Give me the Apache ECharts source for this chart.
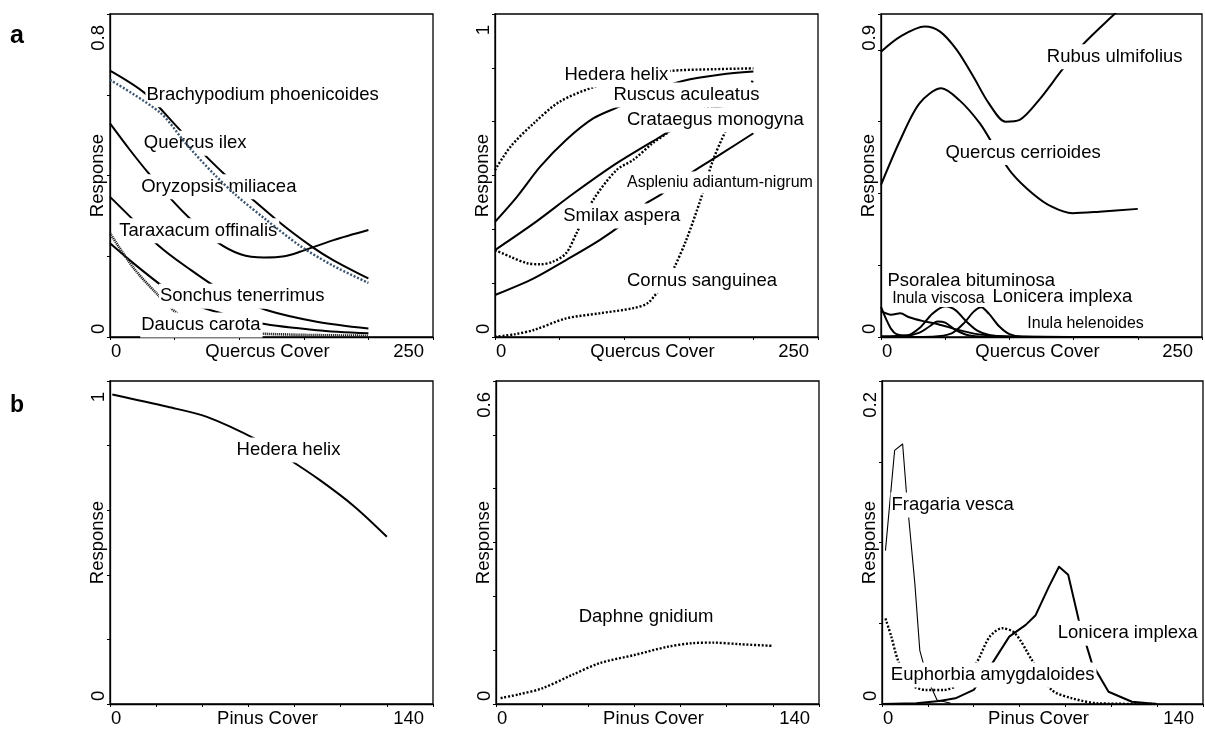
<!DOCTYPE html>
<html>
<head>
<meta charset="utf-8">
<script src="https://cdn.jsdelivr.net/npm/echarts@6/dist/echarts.min.js"></script>
<style>
  html, body { margin: 0; padding: 0; background: #fff; }
  #chart { width: 1205px; height: 731px; }
</style>
</head>
<body>
<div id="chart"></div>
<script>
// ---------- response curves along Quercus cover (row a) ----------
const brachypodium = [[0,0.66],[27,0.604],[55,0.51],[88,0.405],[129,0.29],[157,0.222],[173,0.19],[200,0.145]];
const quercusIlex = [[0,0.637],[39,0.555],[59,0.478],[80,0.405],[98,0.35],[121,0.29],[147,0.226],[173,0.176],[200,0.134]];
const oryzopsis = [[0,0.529],[15,0.465],[30,0.405],[48,0.339],[63,0.29],[83,0.235],[101,0.205],[119,0.197],[135,0.2],[147,0.211],[173,0.24],[200,0.265]];
const taraxacum = [[0,0.347],[18,0.29],[37,0.228],[59,0.174],[90,0.108],[121,0.067],[160,0.038],[200,0.021]];
const sonchus = [[0,0.232],[18,0.183],[41,0.125],[59,0.087],[86,0.059],[116,0.034],[160,0.017],[200,0.009]];
const daucus = [[0,0.257],[18,0.172],[36,0.108],[52,0.059],[70,0.03],[100,0.012],[140,0.006],[200,0.003]];

const hederaQ = [[0,0.62],[12,0.707],[30,0.794],[50,0.874],[76,0.928],[100,0.958],[135,0.988],[170,0.995],[200,0.998]];
const ruscus = [[0,0.428],[17,0.521],[35,0.633],[55,0.732],[76,0.812],[97,0.858],[120,0.91],[146,0.952],[175,0.975],[200,0.986]];
const crataegus = [[0,0.323],[30,0.422],[61,0.534],[94,0.645],[128,0.744],[148,0.8],[168,0.848],[185,0.865],[200,0.875]];
const smilax = [[0,0.323],[12,0.298],[25,0.274],[35,0.27],[45,0.28],[55,0.311],[63,0.385],[76,0.509],[94,0.62],[107,0.658],[122,0.72],[133,0.757],[153,0.83],[166,0.852],[185,0.866],[200,0.872]];
const asplenium = [[0,0.156],[30,0.218],[55,0.286],[81,0.36],[100,0.425],[117,0.497],[128,0.528],[153,0.614],[175,0.68],[200,0.757]];
const cornus = [[0,0],[15,0.01],[30,0.026],[55,0.069],[81,0.088],[107,0.107],[118,0.125],[125,0.162],[132,0.2],[139,0.261],[148,0.36],[159,0.509],[169,0.66],[179,0.769],[190,0.858],[200,0.958]];

const rubus = [[0,0.795],[15,0.837],[34,0.865],[46,0.851],[59,0.8],[72,0.725],[84,0.651],[97,0.6],[108,0.605],[123,0.66],[141,0.744],[157,0.814],[181,0.897],[200,0.96]];
const quercusCerrioides = [[0,0.424],[15,0.549],[30,0.651],[47,0.693],[61,0.66],[77,0.595],[90,0.52],[102,0.456],[118,0.4],[133,0.363],[149,0.345],[170,0.349],[200,0.357]];
const psoralea = [[0,0.002],[20,0.004],[30,0.025],[40,0.065],[50,0.086],[58,0.075],[66,0.045],[75,0.018],[85,0.005],[100,0.001],[200,0]];
const inulaViscosa = [[0,0.084],[4,0.05],[8,0.022],[12,0.008],[20,0.004],[30,0.012],[38,0.03],[44,0.043],[50,0.04],[58,0.02],[68,0.005],[80,0.001],[200,0]];
const loniceraQ = [[0,0],[40,0.001],[55,0.01],[65,0.04],[72,0.07],[78,0.083],[84,0.065],[92,0.03],[100,0.008],[110,0.001],[200,0]];
const inulaHelenoides = [[0,0.072],[8,0.062],[15,0.066],[22,0.055],[32,0.045],[45,0.035],[60,0.02],[75,0.008],[90,0.003],[110,0.0008],[130,0.0002],[200,0]];

// ---------- response curves along Pinus cover (row b) ----------
const hederaP = [[1,0.958],[25,0.92],[42,0.889],[64,0.817],[77,0.76],[91,0.693],[106,0.611],[120,0.518]];
const daphne = [[2,0.011],[10,0.018],[20,0.029],[33,0.054],[45,0.076],[60,0.091],[74,0.106],[85,0.113],[94,0.114],[106,0.111],[120,0.108]];
const fragaria = [[1.5,0.095],[5.5,0.157],[9,0.161],[10.7,0.13],[14.3,0.075],[16.5,0.033],[20,0.015],[24,0.0025],[30,0.0005]];
const euphorbia = [[1.5,0.053],[4,0.042],[7,0.027],[12,0.0128],[19,0.0087],[27,0.0087],[34,0.0128],[41,0.025],[47,0.0417],[52.5,0.0469],[58,0.0438],[65.5,0.027],[74,0.0087],[83,0.0035],[94.5,0.0004],[120,0]];
const loniceraP = [[0,0],[15,0.0005],[25,0.0019],[32,0.0035],[40,0.0087],[48,0.025],[55.5,0.0417],[62.7,0.049],[67,0.055],[72.8,0.0727],[77.2,0.085],[81.2,0.08],[85.8,0.052],[91.6,0.025],[98.8,0.0076],[109,0.0014],[120,0]];

// ---------- axes ----------
const xNames = ['Quercus Cover', 'Quercus Cover', 'Quercus Cover', 'Pinus Cover', 'Pinus Cover', 'Pinus Cover'];
const xMaxes = [250, 250, 250, 140, 140, 140];
const xSteps = [50, 50, 50, 20, 20, 20];
const xTickLabels = [['0','250'],['0','250'],['0','250'],['0','140'],['0','140'],['0','140']];
const yMaxes = [0.8, 1.2, 0.9, 1, 0.6, 0.2];
const ySteps = [0.2, 0.2, 0.2, 0.2, 0.1, 0.05];
const yTickLabels = [['0','0.8'],['0','1'],['0','0.9'],['0','1'],['0','0.6'],['0','0.2']];
const panelLetters = ['a', 'b'];

// ---------- which curve sits in which panel, and how it is stroked ----------
const curves = [
  { panel: 0, name: 'Brachypodium phoenicoides', data: brachypodium, stroke: 'solid' },
  { panel: 0, name: 'Quercus ilex', data: quercusIlex, stroke: 'slate' },
  { panel: 0, name: 'Oryzopsis miliacea', data: oryzopsis, stroke: 'solid' },
  { panel: 0, name: 'Taraxacum offinalis', data: taraxacum, stroke: 'solid' },
  { panel: 0, name: 'Sonchus tenerrimus', data: sonchus, stroke: 'solid' },
  { panel: 0, name: 'Daucus carota', data: daucus, stroke: 'hatched' },
  { panel: 1, name: 'Hedera helix', data: hederaQ, stroke: 'dotted' },
  { panel: 1, name: 'Ruscus aculeatus', data: ruscus, stroke: 'solid' },
  { panel: 1, name: 'Crataegus monogyna', data: crataegus, stroke: 'solid' },
  { panel: 1, name: 'Smilax aspera', data: smilax, stroke: 'dotted' },
  { panel: 1, name: 'Aspleniu adiantum-nigrum', data: asplenium, stroke: 'solid' },
  { panel: 1, name: 'Cornus sanguinea', data: cornus, stroke: 'dotted' },
  { panel: 2, name: 'Rubus ulmifolius', data: rubus, stroke: 'solid' },
  { panel: 2, name: 'Quercus cerrioides', data: quercusCerrioides, stroke: 'solid' },
  { panel: 2, name: 'Psoralea bituminosa', data: psoralea, stroke: 'solid' },
  { panel: 2, name: 'Inula viscosa', data: inulaViscosa, stroke: 'solid' },
  { panel: 2, name: 'Lonicera implexa', data: loniceraQ, stroke: 'solid' },
  { panel: 2, name: 'Inula helenoides', data: inulaHelenoides, stroke: 'solid' },
  { panel: 3, name: 'Hedera helix', data: hederaP, stroke: 'solid' },
  { panel: 4, name: 'Daphne gnidium', data: daphne, stroke: 'dotted' },
  { panel: 5, name: 'Fragaria vesca', data: fragaria, stroke: 'thin' },
  { panel: 5, name: 'Euphorbia amygdaloides', data: euphorbia, stroke: 'dotted' },
  { panel: 5, name: 'Lonicera implexa', data: loniceraP, stroke: 'polyline' }
];

// species names written inside the panels, anchored (left edge, middle) in axis units;
// "tight" tags sit close together and get no vertical padding
const nameTags = [
  { panel: 0, text: 'Brachypodium phoenicoides', at: [27, 0.6] },
  { panel: 0, text: 'Quercus ilex', at: [25, 0.48] },
  { panel: 0, text: 'Oryzopsis miliacea', at: [23, 0.372] },
  { panel: 0, text: 'Taraxacum offinalis', at: [6, 0.263] },
  { panel: 0, text: 'Sonchus tenerrimus', at: [37.5, 0.101] },
  { panel: 0, text: 'Daucus carota', at: [23, 0.03] },
  { panel: 1, text: 'Hedera helix', at: [52.6, 0.973] },
  { panel: 1, text: 'Ruscus aculeatus', at: [90.5, 0.899] },
  { panel: 1, text: 'Crataegus monogyna', at: [101, 0.806] },
  { panel: 1, text: 'Aspleniu adiantum-nigrum', at: [101, 0.574], small: true },
  { panel: 1, text: 'Smilax aspera', at: [51.6, 0.45] },
  { panel: 1, text: 'Cornus sanguinea', at: [101, 0.21] },
  { panel: 2, text: 'Rubus ulmifolius', at: [128, 0.781] },
  { panel: 2, text: 'Quercus cerrioides', at: [49, 0.514] },
  { panel: 2, text: 'Inula viscosa', at: [7.5, 0.106], small: true, tight: true },
  { panel: 2, text: 'Psoralea bituminosa', at: [3.9, 0.157], tight: true },
  { panel: 2, text: 'Lonicera implexa', at: [85.7, 0.1126], tight: true },
  { panel: 2, text: 'Inula helenoides', at: [112.8, 0.036], small: true },
  { panel: 3, text: 'Hedera helix', at: [54.2, 0.786] },
  { panel: 4, text: 'Daphne gnidium', at: [35.2, 0.162] },
  { panel: 5, text: 'Fragaria vesca', at: [3.5, 0.1232] },
  { panel: 5, text: 'Lonicera implexa', at: [76, 0.0438] },
  { panel: 5, text: 'Euphorbia amygdaloides', at: [3.2, 0.018] }
];

// ---------- layout and styling ----------
const FONT = "'Liberation Sans', Arial, Helvetica, sans-serif";
const INK = '#000';
const gridBoxes = [
  { left: 110, top: 14, width: 323 }, { left: 495, top: 14, width: 323 }, { left: 881, top: 14, width: 321 },
  { left: 110, top: 381, width: 323 }, { left: 496, top: 381, width: 323 }, { left: 882, top: 381, width: 321 }
];
const strokes = {
  solid:    { color: INK, width: 2, type: 'solid', smooth: 0.3 },
  polyline: { color: INK, width: 2, type: 'solid', smooth: false },
  thin:     { color: INK, width: 1.1, type: 'solid', smooth: false },
  dotted:   { color: INK, width: 2.4, type: [2, 1.8], smooth: 0.3 },
  slate:    { color: '#3a5570', width: 2.4, type: [2, 1.8], smooth: 0.3, z: 4 },
  hatched:  { color: '#222', width: 2.6, type: [1.2, 0.8], smooth: 0.3 }
};

const near = (a, b) => Math.abs(a - b) < 1e-9;

const grids = gridBoxes.map(g => ({
  left: g.left, top: g.top, width: g.width, height: 323,
  show: true, borderColor: INK, borderWidth: 1.3, backgroundColor: 'transparent',
  containLabel: false, outerBoundsMode: 'none'
}));

const xAxes = gridBoxes.map((g, i) => ({
  type: 'value', gridIndex: i, min: 0, max: xMaxes[i], interval: xSteps[i],
  name: xNames[i], nameLocation: 'middle', nameGap: 5, nameMoveOverlap: false,
  nameTextStyle: { fontSize: 18.5, color: INK, fontFamily: FONT, padding: [0, 8, 0, 0] },
  axisLine: { show: true, onZero: false, lineStyle: { color: INK, width: 1.3 } },
  axisTick: { show: true, inside: false, length: 3, lineStyle: { color: INK, width: 1 } },
  splitLine: { show: false },
  axisLabel: {
    show: true, margin: 5, fontSize: 18.5, color: INK, fontFamily: FONT,
    showMinLabel: true, showMaxLabel: true, hideOverlap: false,
    alignMinLabel: 'left', alignMaxLabel: 'right',
    formatter: v => near(v, 0) ? '{lo|' + xTickLabels[i][0] + '}'
                  : near(v, xMaxes[i]) ? '{hi|' + xTickLabels[i][1] + '}' : '',
    rich: {
      lo: { fontSize: 18.5, color: INK, fontFamily: FONT, padding: [0, 0, 0, 1] },
      hi: { fontSize: 18.5, color: INK, fontFamily: FONT, padding: [0, 9, 0, 0] }
    }
  }
}));

const yAxes = gridBoxes.map((g, i) => ({
  type: 'value', gridIndex: i, min: 0, max: yMaxes[i], interval: ySteps[i],
  name: 'Response', nameLocation: 'middle', nameGap: 3, nameRotate: 90, nameMoveOverlap: false,
  nameTextStyle: { fontSize: 18.5, color: INK, fontFamily: FONT },
  axisLine: { show: true, onZero: false, lineStyle: { color: INK, width: 1.3 } },
  axisTick: { show: true, inside: false, length: 3, lineStyle: { color: INK, width: 1 } },
  splitLine: { show: false },
  axisLabel: {
    show: true, rotate: 90, margin: 2, fontSize: 18.5, color: INK, fontFamily: FONT,
    showMinLabel: true, showMaxLabel: true, hideOverlap: false,
    alignMinLabel: 'left', alignMaxLabel: 'right',
    formatter: v => near(v, 0) ? '{lo|' + yTickLabels[i][0] + '}'
                  : near(v, yMaxes[i]) ? '{hi|' + yTickLabels[i][1] + '}' : '',
    rich: {
      lo: { fontSize: 18.5, color: INK, fontFamily: FONT, padding: [0, 0, 0, 3] },
      hi: { fontSize: 18.5, color: INK, fontFamily: FONT, padding: [0, 11, 0, 0] }
    }
  }
}));

const lineSeries = curves.map(c => {
  const s = strokes[c.stroke];
  return {
    type: 'line', name: c.name, xAxisIndex: c.panel, yAxisIndex: c.panel,
    data: c.data, showSymbol: false, symbol: 'none', clip: true,
    smooth: s.smooth, z: s.z || 2, silent: true,
    lineStyle: { color: s.color, width: s.width, type: s.type, cap: 'butt', join: 'round' }
  };
});

const tagSeries = gridBoxes.map((g, i) => ({
  type: 'scatter', xAxisIndex: i, yAxisIndex: i, z: 3, silent: true, clip: false,
  symbol: 'circle', symbolSize: 1, itemStyle: { color: 'rgba(255,255,255,0)', opacity: 1 },
  data: nameTags.filter(t => t.panel === i).map(t => ({
    value: t.at, name: t.text,
    label: {
      fontSize: t.small ? 16 : 18.5,
      padding: t.tight ? [0, 2, 0, 1] : [3, 2, 3, 1]
    }
  })),
  label: {
    show: true, position: 'right', distance: 0, formatter: '{b}',
    color: INK, opacity: 1, fontFamily: FONT, fontSize: 18.5,
    backgroundColor: '#fff', padding: [3, 2, 3, 1]
  },
  labelLayout: { hideOverlap: false }
}));

const chart = echarts.init(document.getElementById('chart'), null, { renderer: 'canvas' });
chart.setOption({
  animation: false,
  backgroundColor: '#fff',
  textStyle: { fontFamily: FONT, color: INK },
  title: [
    { text: panelLetters[0], left: 10, top: 24, padding: 0,
      textStyle: { fontSize: 25, fontWeight: 'bold', color: INK, fontFamily: FONT } },
    { text: panelLetters[1], left: 10, top: 394, padding: 0,
      textStyle: { fontSize: 23, fontWeight: 'bold', color: INK, fontFamily: FONT } }
  ],
  grid: grids,
  xAxis: xAxes,
  yAxis: yAxes,
  series: lineSeries.concat(tagSeries)
});
</script>
</body>
</html>
